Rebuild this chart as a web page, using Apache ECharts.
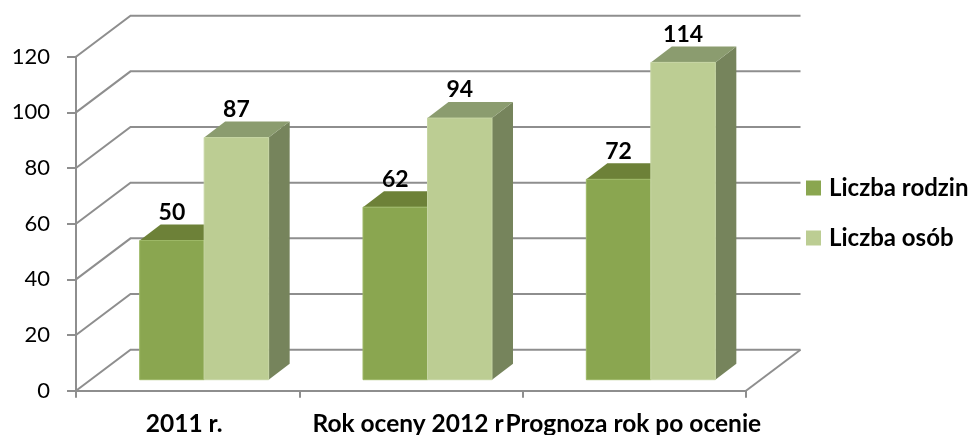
<!DOCTYPE html>
<html>
<head>
<meta charset="utf-8">
<title>Liczba rodzin i osób</title>
<style>
    html, body { margin: 0; padding: 0; background: #fff; }
    #chart { width: 971px; height: 435px; }
</style>
<script src="https://cdn.jsdelivr.net/npm/echarts@6/dist/echarts.min.js"></script>
</head>
<body>
<div id="chart"></div>
<script>
const categories = ['2011 r.', 'Rok oceny 2012 r', 'Prognoza rok po ocenie'];
const liczbaRodzin = [50, 62, 72];
const liczbaOsob = [87, 94, 114];
const yTicks = [0, 20, 40, 60, 80, 100, 120];

// labels sit a little left of the band centre in the original
const labelShift = [7, 6, 2];

const FONT = 'Lato, "Noto Sans", sans-serif';
const WALL_DX = 54.5, WALL_DY = -41;    // depth of the floor
const BAR_DX = 16.5, BAR_DY = -11;      // bars stand inside the floor
const DEPTH_DX = 21, DEPTH_DY = -16;    // depth of one bar
const BAR_W = 64.5;

const chart = echarts.init(document.getElementById('chart'));

function poly(points, fill) {
    return {type: 'polygon', shape: {points: points}, style: {fill: fill}};
}

// one 3d bar, side: -1 left of the band centre, 0 right of it
function barRenderer(side, front, edge, top, right) {
    return function (params, api) {
        const cat = api.value(0), val = api.value(1);
        const c = api.coord([cat, val]), b = api.coord([cat, 0]);
        const x0 = c[0] + BAR_DX + side * BAR_W, x1 = x0 + BAR_W;
        const y0 = c[1] + BAR_DY, y1 = b[1] + BAR_DY;
        return {
            type: 'group',
            children: [
                poly([[x1, y0], [x1 + DEPTH_DX, y0 + DEPTH_DY], [x1 + DEPTH_DX, y1 + DEPTH_DY], [x1, y1]], right),
                poly([[x0, y0], [x0 + DEPTH_DX, y0 + DEPTH_DY], [x1 + DEPTH_DX, y0 + DEPTH_DY], [x1, y0]], top),
                {
                    type: 'rect',
                    shape: {x: x0, y: y0, width: BAR_W, height: y1 - y0},
                    style: {fill: front, stroke: edge, lineWidth: 1}
                },
                {
                    type: 'text',
                    z2: 10,
                    style: {
                        text: String(val), x: (x0 + x1) / 2, y: y0 - 28,
                        align: 'center', verticalAlign: 'middle',
                        font: 'bold 23px ' + FONT, fill: '#000'
                    }
                }
            ]
        };
    };
}

function wallRenderer(params, api) {
    const y = api.coord([0, api.value(1)])[1];
    const x0 = params.coordSys.x, x1 = x0 + params.coordSys.width;
    const lines = [{
        type: 'polyline',
        shape: {points: [[x0, y], [x0 + WALL_DX, y + WALL_DY], [x1 + WALL_DX, y + WALL_DY]]},
        style: {fill: null, stroke: '#8e8e8e', lineWidth: 2}
    }];
    if (api.value(1) === 0) {
        lines.push({
            type: 'line',
            shape: {x1: x1, y1: y, x2: x1 + WALL_DX, y2: y + WALL_DY},
            style: {stroke: '#8e8e8e', lineWidth: 2}
        });
    }
    return {type: 'group', children: lines};
}

const option = {
    animation: false,
    backgroundColor: '#fff',
    textStyle: {fontFamily: FONT},
    grid: {left: 76, right: 225, top: 56.7, bottom: 44.3, outerBoundsMode: 'none'},
    legend: {
        data: ['Liczba rodzin', 'Liczba osób'],
        orient: 'vertical',
        left: 801,
        top: 171,
        itemWidth: 15,
        itemHeight: 15,
        itemGap: 26,
        icon: 'rect',
        textStyle: {fontFamily: FONT, fontWeight: 'bold', fontSize: 24, color: '#000', padding: [0, 0, 0, 3]}
    },
    xAxis: {
        type: 'category',
        data: categories.map(function (name, i) {
            return {value: name, textStyle: {padding: [0, labelShift[i], 0, 0]}};
        }),
        axisLine: {lineStyle: {color: '#8e8e8e', width: 2}},
        axisTick: {show: true, length: 7, alignWithLabel: false, lineStyle: {color: '#8e8e8e', width: 2}},
        axisLabel: {interval: 0, margin: 21, fontFamily: FONT, fontWeight: 'bold', fontSize: 24.5, color: '#000'}
    },
    yAxis: {
        type: 'value',
        min: 0,
        max: 120,
        interval: 20,
        splitLine: {show: false},
        axisLine: {show: true, lineStyle: {color: '#8e8e8e', width: 2}},
        axisTick: {show: true, length: 9, lineStyle: {color: '#8e8e8e', width: 2}},
        axisLabel: {margin: 26, padding: [4, 0, 0, 0], fontFamily: FONT, fontSize: 22, color: '#000'}
    },
    series: [
        {
            name: 'sciana',
            type: 'custom',
            silent: true,
            renderItem: wallRenderer,
            data: yTicks.map(function (t) { return [0, t]; })
        },
        {
            name: 'Liczba rodzin',
            type: 'custom',
            itemStyle: {color: '#8aa650'},
            renderItem: barRenderer(-1, '#8aa650', '#9db866', '#6d8138', '#6d8138'),
            data: liczbaRodzin.map(function (v, i) { return [i, v]; })
        },
        {
            name: 'Liczba osób',
            type: 'custom',
            itemStyle: {color: '#bccd93'},
            renderItem: barRenderer(0, '#bccd93', '#c6d5a3', '#8b9c6f', '#76845c'),
            data: liczbaOsob.map(function (v, i) { return [i, v]; })
        }
    ]
};
chart.setOption(option);
</script>
</body>
</html>
